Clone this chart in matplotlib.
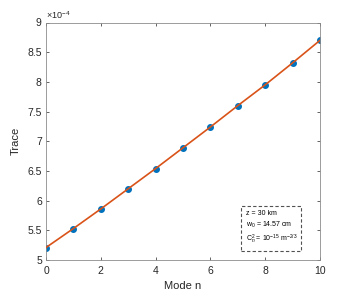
import matplotlib.pyplot as plt
from matplotlib.lines import Line2D

plt.rcParams['font.family'] = ['Liberation Sans', 'DejaVu Sans']
plt.rcParams['mathtext.fontset'] = 'custom'
plt.rcParams['mathtext.rm'] = 'Liberation Sans'
plt.rcParams['mathtext.it'] = 'Liberation Sans:italic'

modes = [0, 1, 2, 3, 4, 5, 6, 7, 8, 9, 10]
trace = [5.21, 5.53, 5.86, 6.20, 6.54, 6.89, 7.24, 7.60, 7.95, 8.32, 8.70]
trace = [v * 1e-4 for v in trace]
xticks = [0, 2, 4, 6, 8, 10]
yticks = [5, 5.5, 6, 6.5, 7, 7.5, 8, 8.5, 9]
legend_lines = ['z = 30 km', r'w$_0$ = 14.57 cm', r'C$_n^2$ = 10$^{-15}$ m$^{-2/3}$']

fig = plt.figure(figsize=(3.54, 2.93), dpi=100)
ax = fig.add_axes([46 / 354, 1 - 260 / 293, 274 / 354, 237.5 / 293])

ax.plot(modes, trace, 'o', color='#0072BD', markerfacecolor='#0072BD', markersize=4, zorder=2)
ax.plot(modes, trace, '-', color='#D95319', linewidth=1.2, zorder=3)

ax.set_xlim(0, 10)
ax.set_ylim(5e-4, 9e-4)
ax.set_xticks(xticks)
ax.set_xticklabels([str(t) for t in xticks])
ax.set_yticks([t * 1e-4 for t in yticks])
ax.set_yticklabels(['%g' % t for t in yticks])
ax.text(0, 1.005, r'$\times$10$^{-4}$', transform=ax.transAxes, fontsize=6.5, color='#262626',
        ha='left', va='bottom')

ax.set_xlabel('Mode n', fontsize=8, color='#262626', labelpad=4)
ax.set_ylabel('Trace', fontsize=8, color='#262626', labelpad=5)
ax.tick_params(direction='in', length=2.5, width=0.5, colors='#262626', labelsize=7.5,
               top=True, right=True)
ax.tick_params(axis='x', pad=4)
ax.tick_params(axis='y', pad=3)
for s in ax.spines.values():
    s.set_color('#8c8c8c')
    s.set_linewidth(0.6)

handles = [Line2D([], [], linestyle='none') for _ in legend_lines]
leg = ax.legend(handles, legend_lines, loc='lower right', bbox_to_anchor=(0.945, 0.025),
                fontsize=5, handlelength=0, handletextpad=0, frameon=True,
                fancybox=False, borderpad=0.6, labelspacing=0.45)
leg.get_frame().set_edgecolor('#262626')
leg.get_frame().set_linestyle((0, (3, 2)))
leg.get_frame().set_linewidth(0.8)

fig.savefig('out.png', dpi=100)
